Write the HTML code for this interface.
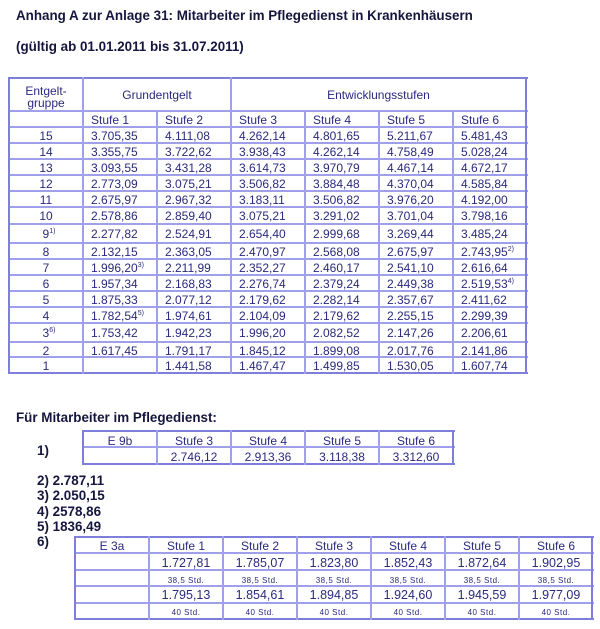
<!DOCTYPE html>
<html><head><meta charset="utf-8">
<style>
html,body{margin:0;padding:0;background:#fff}
body{width:600px;height:629px;position:relative;overflow:hidden;font-family:"Liberation Sans",Arial,sans-serif}
.ti{position:absolute;left:16px;font-weight:bold;font-size:13.4px;line-height:16px;color:#15153f;white-space:nowrap}
.h{position:absolute;height:2px;background:#a0a0ea}
.v{position:absolute;width:2px;background:#a0a0ea}
.o{background:#7e7edb}
.r{position:absolute;left:0;width:600px;height:22px;font-size:12px;color:#2a2a7e;white-space:nowrap}
.r span{position:absolute;top:0}
.r .g{left:9px;width:74px;text-align:center}
.a1{left:91px}.a2{left:165px}.a3{left:239px}.a4{left:313px}.a5{left:387px}.a6{left:461px}
sup{font-size:7px;vertical-align:5px;line-height:0}
.c{width:74px;text-align:center}
.sm{font-size:8px;letter-spacing:0.5px}
</style></head><body>

<div class="ti" style="top:8px">Anhang A zur Anlage 31: Mitarbeiter im Pflegedienst in Krankenhäusern</div>
<div class="ti" style="top:39px">(gültig ab 01.01.2011 bis 31.07.2011)</div>

<!-- top table lines -->
<div class="h o" style="left:9px;width:519px;top:77px"></div>
<div class="h" style="left:9px;width:519px;top:110px"></div>
<div class="h" style="left:9px;width:519px;top:126px"></div>
<div class="h" style="left:9px;width:519px;top:142px"></div>
<div class="h" style="left:9px;width:519px;top:158px"></div>
<div class="h" style="left:9px;width:519px;top:174px"></div>
<div class="h" style="left:9px;width:519px;top:190px"></div>
<div class="h" style="left:9px;width:519px;top:206px"></div>
<div class="h" style="left:9px;width:519px;top:223px"></div>
<div class="h" style="left:9px;width:519px;top:242px"></div>
<div class="h" style="left:9px;width:519px;top:258px"></div>
<div class="h" style="left:9px;width:519px;top:274px"></div>
<div class="h" style="left:9px;width:519px;top:290px"></div>
<div class="h" style="left:9px;width:519px;top:306px"></div>
<div class="h" style="left:9px;width:519px;top:322px"></div>
<div class="h" style="left:9px;width:519px;top:341px"></div>
<div class="h" style="left:9px;width:519px;top:356px"></div>
<div class="h o" style="left:9px;width:519px;top:372px"></div>
<div class="v o" style="left:8px;top:77px;height:297px"></div>
<div class="v" style="left:82px;top:77px;height:297px"></div>
<div class="v" style="left:156px;top:110px;height:264px"></div>
<div class="v" style="left:230px;top:77px;height:297px"></div>
<div class="v" style="left:304px;top:110px;height:264px"></div>
<div class="v" style="left:378px;top:110px;height:264px"></div>
<div class="v" style="left:452px;top:110px;height:264px"></div>
<div class="v o" style="left:525px;top:77px;height:297px"></div>

<!-- header -->
<div class="r" style="top:85px;line-height:12px"><span class="g">Entgelt-<br>gruppe</span></div>
<div class="r" style="top:86px;line-height:18px"><span style="left:83px;width:148px;text-align:center">Grundentgelt</span><span style="left:231px;width:295px;text-align:center">Entwicklungsstufen</span></div>
<div class="r" style="top:111px;line-height:18px"><span class="a1">Stufe 1</span><span class="a2">Stufe 2</span><span class="a3">Stufe 3</span><span class="a4">Stufe 4</span><span class="a5">Stufe 5</span><span class="a6">Stufe 6</span></div>

<div class="r" style="top:127px;line-height:18px"><span class="g">15</span><span class="a1">3.705,35</span><span class="a2">4.111,08</span><span class="a3">4.262,14</span><span class="a4">4.801,65</span><span class="a5">5.211,67</span><span class="a6">5.481,43</span></div>
<div class="r" style="top:143px;line-height:18px"><span class="g">14</span><span class="a1">3.355,75</span><span class="a2">3.722,62</span><span class="a3">3.938,43</span><span class="a4">4.262,14</span><span class="a5">4.758,49</span><span class="a6">5.028,24</span></div>
<div class="r" style="top:159px;line-height:18px"><span class="g">13</span><span class="a1">3.093,55</span><span class="a2">3.431,28</span><span class="a3">3.614,73</span><span class="a4">3.970,79</span><span class="a5">4.467,14</span><span class="a6">4.672,17</span></div>
<div class="r" style="top:175px;line-height:18px"><span class="g">12</span><span class="a1">2.773,09</span><span class="a2">3.075,21</span><span class="a3">3.506,82</span><span class="a4">3.884,48</span><span class="a5">4.370,04</span><span class="a6">4.585,84</span></div>
<div class="r" style="top:191px;line-height:18px"><span class="g">11</span><span class="a1">2.675,97</span><span class="a2">2.967,32</span><span class="a3">3.183,11</span><span class="a4">3.506,82</span><span class="a5">3.976,20</span><span class="a6">4.192,00</span></div>
<div class="r" style="top:207px;line-height:19px"><span class="g">10</span><span class="a1">2.578,86</span><span class="a2">2.859,40</span><span class="a3">3.075,21</span><span class="a4">3.291,02</span><span class="a5">3.701,04</span><span class="a6">3.798,16</span></div>
<div class="r" style="top:224px;line-height:21px"><span class="g">9<sup style="margin-right:-6px">1)</sup></span><span class="a1">2.277,82</span><span class="a2">2.524,91</span><span class="a3">2.654,40</span><span class="a4">2.999,68</span><span class="a5">3.269,44</span><span class="a6">3.485,24</span></div>
<div class="r" style="top:243px;line-height:18px"><span class="g">8</span><span class="a1">2.132,15</span><span class="a2">2.363,05</span><span class="a3">2.470,97</span><span class="a4">2.568,08</span><span class="a5">2.675,97</span><span class="a6">2.743,95<sup>2)</sup></span></div>
<div class="r" style="top:259px;line-height:18px"><span class="g">7</span><span class="a1">1.996,20<sup>3)</sup></span><span class="a2">2.211,99</span><span class="a3">2.352,27</span><span class="a4">2.460,17</span><span class="a5">2.541,10</span><span class="a6">2.616,64</span></div>
<div class="r" style="top:275px;line-height:18px"><span class="g">6</span><span class="a1">1.957,34</span><span class="a2">2.168,83</span><span class="a3">2.276,74</span><span class="a4">2.379,24</span><span class="a5">2.449,38</span><span class="a6">2.519,53<sup>4)</sup></span></div>
<div class="r" style="top:291px;line-height:18px"><span class="g">5</span><span class="a1">1.875,33</span><span class="a2">2.077,12</span><span class="a3">2.179,62</span><span class="a4">2.282,14</span><span class="a5">2.357,67</span><span class="a6">2.411,62</span></div>
<div class="r" style="top:307px;line-height:18px"><span class="g">4</span><span class="a1">1.782,54<sup>5)</sup></span><span class="a2">1.974,61</span><span class="a3">2.104,09</span><span class="a4">2.179,62</span><span class="a5">2.255,15</span><span class="a6">2.299,39</span></div>
<div class="r" style="top:323px;line-height:21px"><span class="g">3<sup style="margin-right:-6px">6)</sup></span><span class="a1">1.753,42</span><span class="a2">1.942,23</span><span class="a3">1.996,20</span><span class="a4">2.082,52</span><span class="a5">2.147,26</span><span class="a6">2.206,61</span></div>
<div class="r" style="top:342px;line-height:18px"><span class="g">2</span><span class="a1">1.617,45</span><span class="a2">1.791,17</span><span class="a3">1.845,12</span><span class="a4">1.899,08</span><span class="a5">2.017,76</span><span class="a6">2.141,86</span></div>
<div class="r" style="top:357px;line-height:18px"><span class="g">1</span><span class="a2">1.441,58</span><span class="a3">1.467,47</span><span class="a4">1.499,85</span><span class="a5">1.530,05</span><span class="a6">1.607,74</span></div>

<!-- Pflegedienst section -->
<div class="ti" style="top:410px">Für Mitarbeiter im Pflegedienst:</div>
<div class="ti" style="top:443px;left:37px">1)</div>
<div class="ti" style="top:473px;left:37px">2) 2.787,11</div>
<div class="ti" style="top:488px;left:37px">3) 2.050,15</div>
<div class="ti" style="top:504px;left:37px">4) 2578,86</div>
<div class="ti" style="top:519px;left:37px">5) 1836,49</div>
<div class="ti" style="top:534px;left:37px">6)</div>

<!-- second table -->
<div class="h o" style="left:83px;width:372px;top:430px"></div>
<div class="h" style="left:83px;width:372px;top:446px"></div>
<div class="h o" style="left:83px;width:372px;top:463px"></div>
<div class="v o" style="left:82px;top:430px;height:35px"></div>
<div class="v" style="left:156px;top:430px;height:35px"></div>
<div class="v" style="left:230px;top:430px;height:35px"></div>
<div class="v" style="left:304px;top:430px;height:35px"></div>
<div class="v" style="left:378px;top:430px;height:35px"></div>
<div class="v o" style="left:452px;top:430px;height:35px"></div>
<div class="r" style="top:431px;line-height:20px"><span class="c" style="left:83px">E 9b</span><span class="c" style="left:157px">Stufe 3</span><span class="c" style="left:231px">Stufe 4</span><span class="c" style="left:305px">Stufe 5</span><span class="c" style="left:379px">Stufe 6</span></div>
<div class="r" style="top:447px;line-height:20px"><span class="c" style="left:157px">2.746,12</span><span class="c" style="left:231px">2.913,36</span><span class="c" style="left:305px">3.118,38</span><span class="c" style="left:379px">3.312,60</span></div>

<!-- bottom table -->
<div class="h o" style="left:75px;width:519px;top:536px"></div>
<div class="h" style="left:75px;width:519px;top:552px"></div>
<div class="h" style="left:75px;width:519px;top:569px"></div>
<div class="h" style="left:75px;width:519px;top:585px"></div>
<div class="h" style="left:75px;width:519px;top:602px"></div>
<div class="h o" style="left:75px;width:519px;top:618px"></div>
<div class="v o" style="left:74px;top:536px;height:84px"></div>
<div class="v" style="left:148px;top:536px;height:84px"></div>
<div class="v" style="left:222px;top:536px;height:84px"></div>
<div class="v" style="left:296px;top:536px;height:84px"></div>
<div class="v" style="left:370px;top:536px;height:84px"></div>
<div class="v" style="left:444px;top:536px;height:84px"></div>
<div class="v" style="left:518px;top:536px;height:84px"></div>
<div class="v o" style="left:591px;top:536px;height:84px"></div>

<div class="r" style="top:537px;line-height:18px"><span class="c" style="left:75px">E 3a</span><span class="c" style="left:149px">Stufe 1</span><span class="c" style="left:223px">Stufe 2</span><span class="c" style="left:297px">Stufe 3</span><span class="c" style="left:371px">Stufe 4</span><span class="c" style="left:445px">Stufe 5</span><span class="c" style="left:519px">Stufe 6</span></div>
<div class="r" style="top:553px;line-height:21px;font-size:12.5px"><span class="c" style="left:149px">1.727,81</span><span class="c" style="left:223px">1.785,07</span><span class="c" style="left:297px">1.823,80</span><span class="c" style="left:371px">1.852,43</span><span class="c" style="left:445px">1.872,64</span><span class="c" style="left:519px">1.902,95</span></div>
<div class="r sm" style="top:570px;line-height:22px"><span class="c" style="left:149px">38,5 Std.</span><span class="c" style="left:223px">38,5 Std.</span><span class="c" style="left:297px">38,5 Std.</span><span class="c" style="left:371px">38,5 Std.</span><span class="c" style="left:445px">38,5 Std.</span><span class="c" style="left:519px">38,5 Std.</span></div>
<div class="r" style="top:586px;line-height:18px;font-size:12.5px"><span class="c" style="left:149px">1.795,13</span><span class="c" style="left:223px">1.854,61</span><span class="c" style="left:297px">1.894,85</span><span class="c" style="left:371px">1.924,60</span><span class="c" style="left:445px">1.945,59</span><span class="c" style="left:519px">1.977,09</span></div>
<div class="r sm" style="top:603px;line-height:19px"><span class="c" style="left:149px">40 Std.</span><span class="c" style="left:223px">40 Std.</span><span class="c" style="left:297px">40 Std.</span><span class="c" style="left:371px">40 Std.</span><span class="c" style="left:445px">40 Std.</span><span class="c" style="left:519px">40 Std.</span></div>

</body></html>
